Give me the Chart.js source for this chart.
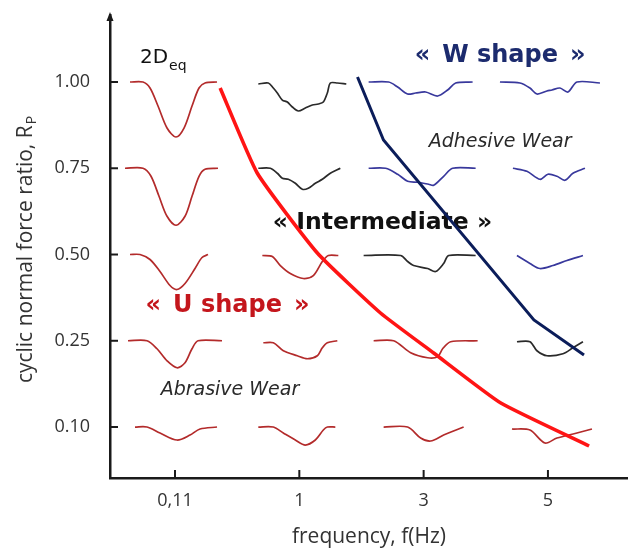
<!DOCTYPE html>
<html><head><meta charset="utf-8">
<script src="https://cdn.jsdelivr.net/npm/chart.js@4.4.1/dist/chart.umd.min.js"></script>
<style>html,body{margin:0;padding:0;background:#fff;}canvas{display:block;}</style>
</head><body>
<canvas id="c" width="628" height="552"></canvas>
<script>
// ---- categories / tick labels ----
const FREQ_LABELS = ['0,11', '1', '3', '5'];                 // frequency f (Hz)
const RP_LABELS = ['0.10', '0.25', '0.50', '0.75', '1.00'];   // cyclic normal force ratio R_P (bottom -> top)

// ---- regime boundary lines (category-index units) ----
const U_LIMIT_X = [0.363, 0.661, 1.145, 1.653, 2.081, 2.621, 3.331];
const U_LIMIT_Y = [3.930, 2.945, 2.017, 1.322, 0.858, 0.278, -0.220];
const W_LIMIT_X = [1.468, 1.677, 2.887, 3.290];
const W_LIMIT_Y = [4.058, 3.328, 1.241, 0.835];

// ---- wear regime per cell (rows: R_P 0.10..1.00, cols: frequency) ----
const REGIME = [
  ['U', 'U', 'U', 'U'],
  ['U', 'U', 'U', 'I'],
  ['U', 'U', 'I', 'W'],
  ['U', 'I', 'W', 'W'],
  ['U', 'I', 'W', 'W']
];

// ---- wear scar profiles [trace position, depth] (trace units) ----
const SCARS_R010 = [
  [[-40,0],[-28,0],[-15,6],[2,13],[15,8],[25,2],[42,0]],
  [[-41,0],[-26,0],[-16,6],[-4,13],[6,18],[16,13],[24,3],[28,0],[36,0]],
  [[-40,0],[-16,0],[-3,11],[7,14],[20,8],[40,0]],
  [[-36,2],[-18,3],[-3,16],[9,11],[29,6],[44,2]]
];
const SCARS_R025 = [
  [[-47,0],[-28,0],[-18,8],[-8,20],[2,27],[10,22],[17,8],[23,0],[47,0]],
  [[-36,2],[-26,2],[-16,10],[-2,15],[8,18],[18,15],[23,7],[28,2],[38,0]],
  [[-50,0],[-30,0],[-13,12],[4,17],[14,16],[19,8],[27,1],[54,0]],
  [[-31,1],[-18,1],[-11,10],[-1,15],[15,13],[25,7],[35,1]]
];
const SCARS_R050 = [
  [[-45,0],[-35,0],[-25,5],[-15,17],[-5,31],[2,35],[10,29],[20,14],[27,3],[33,0]],
  [[-37,1],[-27,2],[-19,11],[-9,19],[4,24],[14,21],[23,7],[29,1],[39,1]],
  [[-60,1],[-23,1],[-16,7],[-10,11],[4,14],[12,17],[20,9],[25,1],[52,1]],
  [[-31,1],[-18,9],[-8,14],[5,11],[19,6],[35,1]]
];
const SCARS_R075 = [
  [[-50,0],[-32,0],[-24,8],[-16,28],[-8,48],[1,57],[10,48],[17,28],[24,8],[30,1],[43,0]],
  [[-41,0],[-29,0],[-22,5],[-17,10],[-11,11],[-4,15],[3,21],[9,20],[16,15],[23,11],[31,5],[41,0]],
  [[-55,0],[-38,0],[-26,6],[-16,13],[-6,14],[5,16],[10,17],[20,8],[29,0],[52,0]],
  [[-35,0],[-21,3],[-8,11],[0,6],[9,8],[17,12],[25,5],[37,0]]
];
const SCARS_R100 = [
  [[-45,0],[-32,0],[-25,6],[-17,24],[-8,46],[1,55],[9,46],[17,24],[24,6],[30,1],[42,0]],
  [[-41,2],[-31,1],[-26,6],[-22,11],[-17,18],[-12,20],[-7,25],[-1,29],[6,26],[13,23],[19,22],[24,20],[28,11],[31,1],[38,1],[47,2]],
  [[-55,0],[-35,0],[-26,5],[-16,12],[-8,11],[2,10],[14,14],[24,8],[32,1],[49,0]],
  [[-48,0],[-28,1],[-18,6],[-11,12],[-1,9],[4,8],[12,6],[20,10],[29,0],[52,1]]
];

// ---- annotations (category-index units) ----
const NOTES = [
  {text: '«\u2002W shape\u2002»', x: 2.615, y: 4.232, kind: 'W'},
  {text: 'Adhesive Wear', x: 2.615, y: 3.246, kind: 'it'},
  {text: '« Intermediate »', x: 1.669, y: 2.296, kind: 'I'},
  {text: '«\u2002U shape\u2002»', x: 0.422, y: 1.333, kind: 'U'},
  {text: 'Abrasive Wear', x: 0.442, y: 0.371, kind: 'it'}
];
const LABEL_2DEQ = {main: '2D', sub: 'eq', x: -0.282, y: 4.22};

// ---------------- styling / layout ----------------
const X_MIN = -0.523, X_MAX = 3.644, Y_MIN = -0.591, Y_MAX = 4.777;
const TRACE_X = 1 / 124.3, TRACE_Y = 1 / 86.25;
const REGIME_COLOR = {U: '#b32b2b', I: '#2a2a2a', W: '#38389c'};
const NOTE_STYLE = {
  W: {font: 'bold 24px "DejaVu Sans"', color: '#1c2b6e'},
  I: {font: 'bold 23.5px "DejaVu Sans"', color: '#111111'},
  U: {font: 'bold 24px "DejaVu Sans"', color: '#c4161c'},
  it: {font: 'italic 19px "DejaVu Sans"', color: '#2a2a2a'}
};
const SCARS = [SCARS_R010, SCARS_R025, SCARS_R050, SCARS_R075, SCARS_R100];

const datasets = [];
datasets.push({
  data: U_LIMIT_X.map((x, i) => ({x, y: U_LIMIT_Y[i]})),
  borderColor: '#ff1414', borderWidth: 3.6, tension: 0.15, order: 0
});
datasets.push({
  data: W_LIMIT_X.map((x, i) => ({x, y: W_LIMIT_Y[i]})),
  borderColor: '#0b1d5a', borderWidth: 3, tension: 0, order: 0
});
SCARS.forEach((row, r) => row.forEach((prof, c) => {
  datasets.push({
    data: prof.map(([d, h]) => ({x: c + d * TRACE_X, y: r - h * TRACE_Y})),
    borderColor: REGIME_COLOR[REGIME[r][c]], borderWidth: 1.7, tension: 0.3, order: 1
  });
}));
datasets.forEach(d => { d.showLine = true; d.pointRadius = 0; d.fill = false; });

const decor = {
  id: 'decor',
  beforeDatasetsDraw(chart) {
    const {ctx, scales: {x, y}} = chart;
    ctx.save();
    ctx.textBaseline = 'alphabetic';
    NOTES.forEach(n => {
      const st = NOTE_STYLE[n.kind];
      ctx.font = st.font; ctx.fillStyle = st.color; ctx.textAlign = 'center';
      ctx.fillText(n.text, x.getPixelForValue(n.x), y.getPixelForValue(n.y));
    });
    // 2D_eq
    ctx.fillStyle = '#111'; ctx.textAlign = 'left';
    ctx.font = '20px "DejaVu Sans"';
    const px = x.getPixelForValue(LABEL_2DEQ.x), py = y.getPixelForValue(LABEL_2DEQ.y);
    ctx.fillText(LABEL_2DEQ.main, px, py);
    const w = ctx.measureText(LABEL_2DEQ.main).width;
    ctx.font = '14px "DejaVu Sans"';
    ctx.fillText(LABEL_2DEQ.sub, px + w + 1, py + 7);
    ctx.restore();
  },
  afterDraw(chart) {
    const {ctx, chartArea: a, scales: {x, y}} = chart;
    ctx.save();
    ctx.strokeStyle = '#1a1a1a'; ctx.lineWidth = 2;
    // inward ticks
    FREQ_LABELS.forEach((_, i) => {
      const p = x.getPixelForValue(i);
      ctx.beginPath(); ctx.moveTo(p, a.bottom); ctx.lineTo(p, a.bottom - 8); ctx.stroke();
    });
    RP_LABELS.forEach((_, i) => {
      const p = y.getPixelForValue(i);
      ctx.beginPath(); ctx.moveTo(a.left, p); ctx.lineTo(a.left + 8, p); ctx.stroke();
    });
    // arrow on y axis
    ctx.fillStyle = '#1a1a1a';
    ctx.beginPath(); ctx.moveTo(a.left, a.top - 3); ctx.lineTo(a.left - 3.5, a.top + 6);
    ctx.lineTo(a.left + 3.5, a.top + 6); ctx.closePath(); ctx.fill();
    // axis titles
    ctx.fillStyle = '#333';
    ctx.font = '21px "Open Sans"'; ctx.textAlign = 'center'; ctx.textBaseline = 'alphabetic';
    ctx.fillText('frequency, f(Hz)', (a.left + a.right) / 2, 543);
    const main = 'cyclic normal force ratio, R', sub = 'P';
    const wm = ctx.measureText(main).width;
    ctx.font = '14px "Open Sans"';
    const ws = ctx.measureText(sub).width;
    const total = wm + ws + 1;
    ctx.translate(32, (a.top + a.bottom) / 2 + 3);
    ctx.rotate(-Math.PI / 2);
    ctx.textAlign = 'left';
    ctx.font = '21px "Open Sans"';
    ctx.fillText(main, -total / 2, 0);
    ctx.font = '14px "Open Sans"';
    ctx.fillText(sub, -total / 2 + wm + 1, 4);
    ctx.restore();
  }
};

function noPad(s) { s.paddingTop = 0; s.paddingBottom = 0; s.paddingLeft = 0; s.paddingRight = 0; }

new Chart(document.getElementById('c'), {
  type: 'scatter',
  data: {datasets},
  options: {
    responsive: false, animation: false, devicePixelRatio: 1,
    layout: {padding: {top: 15, left: 0, right: 0, bottom: 0}},
    plugins: {legend: {display: false}, tooltip: {enabled: false}},
    scales: {
      x: {
        type: 'linear', position: 'bottom', min: X_MIN, max: X_MAX,
        afterFit(s) { s.height = 74; noPad(s); },
        afterBuildTicks(s) { s.ticks = FREQ_LABELS.map((_, i) => ({value: i})); },
        grid: {display: false, drawTicks: false},
        border: {display: true, color: '#1a1a1a', width: 2.5},
        ticks: {callback: v => FREQ_LABELS[v], autoSkip: false, maxRotation: 0, padding: 12,
                color: '#333', font: {family: '"Open Sans"', size: 18}}
      },
      y: {
        type: 'linear', position: 'left', min: Y_MIN, max: Y_MAX,
        afterFit(s) { s.width = 110; noPad(s); },
        afterBuildTicks(s) { s.ticks = RP_LABELS.map((_, i) => ({value: i})); },
        grid: {display: false, drawTicks: false},
        border: {display: true, color: '#1a1a1a', width: 2.5},
        ticks: {callback: v => RP_LABELS[v], autoSkip: false, padding: 20,
                color: '#333', font: {family: '"Open Sans"', size: 18}}
      }
    }
  },
  plugins: [decor]
});
</script>
</body></html>
